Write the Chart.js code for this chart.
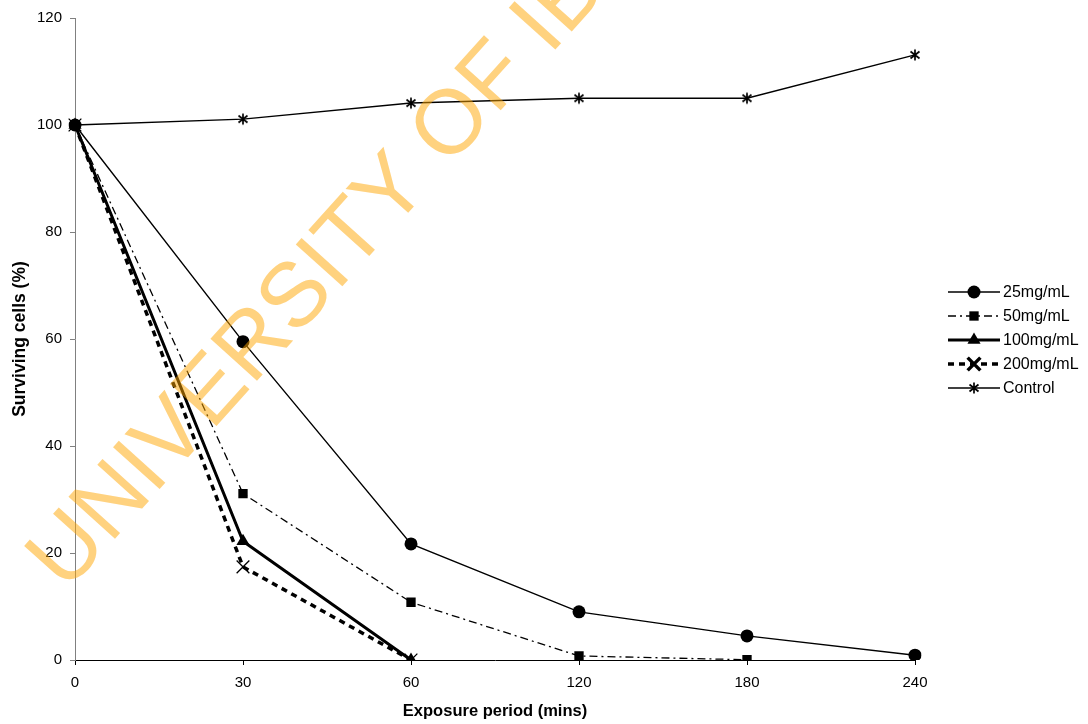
<!DOCTYPE html>
<html>
<head>
<meta charset="utf-8">
<script src="https://cdn.jsdelivr.net/npm/chart.js@4/dist/chart.umd.min.js"></script>
<style>
  html, body { margin: 0; padding: 0; background: #fff; }
  #wrap { width: 1088px; height: 724px; }
</style>
</head>
<body>
<div id="wrap"><canvas id="c" width="1088" height="724"></canvas></div>
<script>
// Exposure periods (minutes) on the category axis
const periods = ['0', '30', '60', '120', '180', '240'];

// Surviving cells (%) per treatment
const conc25 = [100, 59.5, 21.7, 9.0, 4.5, 0.9];
const conc50 = [100, 31.1, 10.8, 0.75, 0.05, null];
const conc100 = [100, 22.2, 0, null, null, null];
const conc200 = [100, 17.4, 0, null, null, null];
const control = [100, 101.1, 104.1, 105, 105, 113.1];

const seriesNames = ['25mg/mL', '50mg/mL', '100mg/mL', '200mg/mL', 'Control'];
const yTicks = [0, 20, 40, 60, 80, 100, 120];

const FONT = 'Arial, "Liberation Sans", sans-serif';

// Asterisk marker (X plus vertical stroke)
function makeStar() {
  const s = 14, c = document.createElement('canvas');
  c.width = s; c.height = s;
  const g = c.getContext('2d');
  g.strokeStyle = '#000';
  g.lineWidth = 1.7;
  g.beginPath();
  g.moveTo(s / 2, 1.5); g.lineTo(s / 2, s - 1.5);
  g.moveTo(2.5, 3.5); g.lineTo(s - 2.5, s - 3.5);
  g.moveTo(s - 2.5, 3.5); g.lineTo(2.5, s - 3.5);
  g.stroke();
  return c;
}
const starMarker = makeStar();

const datasets = [
  { label: seriesNames[0], data: conc25, borderColor: '#000', backgroundColor: '#000',
    borderWidth: 1.4, pointStyle: 'circle', pointRadius: 6.5, pointBorderWidth: 0 },
  { label: seriesNames[1], data: conc50, borderColor: '#000', backgroundColor: '#000',
    borderWidth: 1.3, borderDash: [8, 4, 2, 4], pointStyle: 'rect', pointRadius: 6.6, pointBorderWidth: 0 },
  { label: seriesNames[2], data: conc100, borderColor: '#000', backgroundColor: '#000',
    borderWidth: 3, pointStyle: 'triangle', pointRadius: 7.6, pointBorderWidth: 0 },
  { label: seriesNames[3], data: conc200, borderColor: '#000', backgroundColor: '#000',
    borderWidth: 3.5, borderDash: [6, 5], pointStyle: 'crossRot', pointRadius: 9, pointBorderWidth: 1.3 },
  { label: seriesNames[4], data: control, borderColor: '#000', backgroundColor: '#000',
    borderWidth: 1.4, pointStyle: starMarker, pointRadius: 7 }
];
datasets.forEach(d => {
  d.tension = 0;
  d.fill = false;
  d.spanGaps = false;
  d.pointHoverRadius = d.pointRadius;
  d.borderCapStyle = 'butt';
});

// Legend drawn as line sample + marker + label, to the right of the plot
const sideLegend = {
  id: 'sideLegend',
  afterDraw(chart) {
    const ctx = chart.ctx;
    const x0 = 948, x1 = 1000, top = 292, step = 24;
    chart.data.datasets.forEach((ds, i) => {
      const y = top + i * step;
      ctx.save();
      ctx.strokeStyle = ds.borderColor;
      ctx.lineWidth = ds.borderWidth;
      ctx.setLineDash(ds.borderDash || []);
      ctx.beginPath();
      ctx.moveTo(x0, y);
      ctx.lineTo(x1, y);
      ctx.stroke();
      ctx.setLineDash([]);
      Chart.helpers.drawPoint(ctx, {
        pointStyle: ds.pointStyle, radius: ds.pointRadius, rotation: 0,
        borderWidth: ds.pointBorderWidth === undefined ? 1 : ds.pointBorderWidth
      }, (x0 + x1) / 2, y);
      ctx.fillStyle = '#000';
      ctx.strokeStyle = '#000';
      ctx.font = '16px ' + FONT;
      ctx.textBaseline = 'middle';
      ctx.textAlign = 'left';
      ctx.fillText(ds.label, 1003, y + 1);
      ctx.restore();
    });
  }
};

// Institutional watermark across the plot
const watermark = {
  id: 'watermark',
  afterDraw(chart) {
    const ctx = chart.ctx;
    ctx.save();
    ctx.translate(66, 593);
    ctx.rotate(-48 * Math.PI / 180);
    ctx.font = '91px ' + FONT;
    ctx.fillStyle = 'rgba(255, 165, 0, 0.5)';
    ctx.textBaseline = 'alphabetic';
    ctx.fillText('UNIVERSITY OF IBADAN', 0, 0);
    ctx.restore();
  }
};

// Legend must be painted before the watermark
Chart.register(sideLegend);

new Chart(document.getElementById('c'), {
  type: 'line',
  data: { labels: periods, datasets },
  options: {
    responsive: false,
    animation: false,
    events: [],
    layout: { padding: { top: 18, right: 173, left: 0, bottom: 0 } },
    plugins: { legend: { display: false }, tooltip: { enabled: false } },
    elements: { point: { backgroundColor: '#000', borderColor: '#000' } },
    scales: {
      x: {
        type: 'category',
        offset: false,
        afterFit: s => { s.height = 64; },
        grid: { display: true, drawOnChartArea: false, drawTicks: true, tickLength: 5, color: '#000' },
        border: { display: true, color: '#000', width: 1 },
        ticks: { color: '#000', font: { family: FONT, size: 15 }, padding: 9, maxRotation: 0, autoSkip: false },
        title: { display: true, text: 'Exposure period (mins)', color: '#000',
                 font: { family: FONT, size: 16.5, weight: 'bold' }, padding: { top: 0, bottom: 3 } }
      },
      y: {
        min: 0,
        max: 120,
        afterFit: s => { s.width = 75; },
        afterBuildTicks: s => { s.ticks = yTicks.map(v => ({ value: v })); },
        grid: { display: true, drawOnChartArea: false, drawTicks: true, tickLength: 5, color: '#808080' },
        border: { display: true, color: '#808080', width: 1 },
        ticks: { color: '#000', font: { family: FONT, size: 15 }, padding: 8 },
        title: { display: true, text: 'Surviving cells (%)', color: '#000',
                 font: { family: FONT, size: 17.5, weight: 'bold' }, padding: { top: 10, bottom: 0 } }
      }
    }
  },
  plugins: [watermark]
});
</script>
</body>
</html>
